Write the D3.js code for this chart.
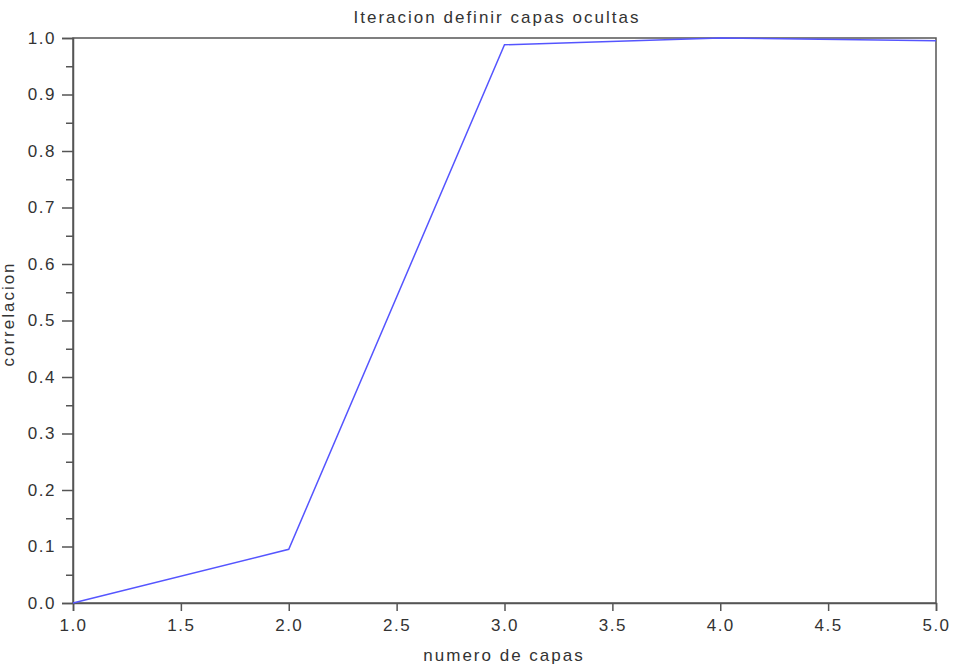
<!DOCTYPE html>
<html>
<head>
<meta charset="utf-8">
<script src="https://cdn.jsdelivr.net/npm/d3@7"></script>
<style>
  body { margin: 0; background: #fff; }
  text { font-family: "Liberation Sans", Arial, sans-serif; fill: #333; }
</style>
</head>
<body>
<svg id="chart" width="953" height="667"></svg>
<script>
// data
var capas = [1, 2, 3, 4, 5];
var correlacion = [0.0, 0.095, 0.988, 1.0, 0.995];
var xTicks = [1.0, 1.5, 2.0, 2.5, 3.0, 3.5, 4.0, 4.5, 5.0];
var yTicks = [0.0, 0.1, 0.2, 0.3, 0.4, 0.5, 0.6, 0.7, 0.8, 0.9, 1.0];
var yMinorTicks = [0.05, 0.15, 0.25, 0.35, 0.45, 0.55, 0.65, 0.75, 0.85, 0.95];

var MARGIN = { top: 38, right: 17, bottom: 64, left: 73 };
var WIDTH = 953 - MARGIN.left - MARGIN.right;
var HEIGHT = 667 - MARGIN.top - MARGIN.bottom;
var AXIS_COLOR = "#555";

var svg = d3.select("#chart");
var g = svg.append("g")
    .attr("transform", "translate(" + MARGIN.left + "," + MARGIN.top + ")");

var x = d3.scaleLinear().domain([1, 5]).range([0, WIDTH]);
var y = d3.scaleLinear().domain([0, 1]).range([HEIGHT, 0]);

// box (top/right)
g.append("rect")
    .attr("width", WIDTH)
    .attr("height", HEIGHT)
    .attr("fill", "none")
    .attr("stroke", AXIS_COLOR)
    .attr("stroke-width", 1.5);

// x axis
g.append("g")
    .attr("transform", "translate(0," + HEIGHT + ")")
    .call(d3.axisBottom(x).tickValues(xTicks).tickSize(8).tickPadding(8)
        .tickFormat(d3.format(".1f")));
// y minor ticks
g.append("g")
    .call(d3.axisLeft(y).tickValues(yMinorTicks).tickSize(7).tickFormat(""))
    .select(".domain").remove();
// y axis
g.append("g")
    .call(d3.axisLeft(y).tickValues(yTicks).tickSize(11).tickPadding(6)
        .tickFormat(d3.format(".1f")));

g.selectAll(".domain, .tick line")
    .attr("stroke", AXIS_COLOR)
    .attr("stroke-width", 1.5);
g.selectAll(".tick text")
    .attr("font-size", 17)
    .attr("font-family", "Liberation Sans, Arial, sans-serif")
    .attr("fill", "#333")
    .style("letter-spacing", "1.5px");

// line
var line = d3.line()
    .x(function(d, i) { return x(capas[i]); })
    .y(function(d) { return y(d); });

g.append("path")
    .datum(correlacion)
    .attr("d", line)
    .attr("fill", "none")
    .attr("stroke", "#5555ff")
    .attr("stroke-width", 1.5);

// title and labels
svg.append("text")
    .attr("x", 497)
    .attr("y", 23)
    .attr("text-anchor", "middle")
    .attr("font-size", 17)
    .style("letter-spacing", "2px")
    .text("Iteracion definir capas ocultas");

svg.append("text")
    .attr("x", 504)
    .attr("y", 661)
    .attr("text-anchor", "middle")
    .attr("font-size", 17)
    .style("letter-spacing", "2px")
    .text("numero de capas");

svg.append("text")
    .attr("transform", "translate(14,314) rotate(-90)")
    .attr("text-anchor", "middle")
    .attr("font-size", 17)
    .style("letter-spacing", "2px")
    .text("correlacion");
</script>
</body>
</html>
